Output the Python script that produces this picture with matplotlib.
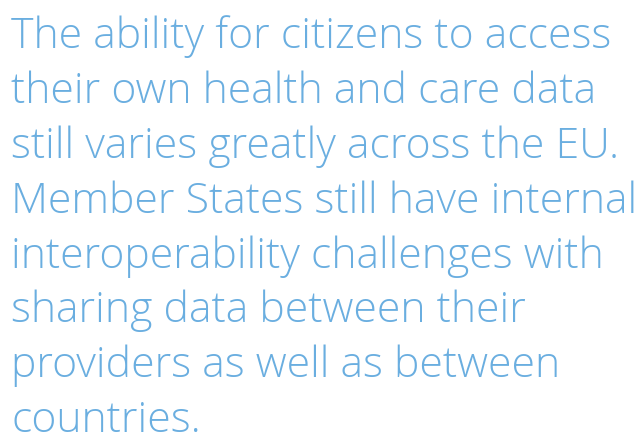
import matplotlib
matplotlib.use("Agg")
import matplotlib.pyplot as plt

lines = [
    "The ability for citizens to access",
    "their own health and care data",
    "still varies greatly across the EU.",
    "Member States still have internal",
    "interoperability challenges with",
    "sharing data between their",
    "providers as well as between",
    "countries.",
]

W, H = 638, 441
fig = plt.figure(figsize=(W / 100, H / 100), dpi=100)
fig.patch.set_facecolor("white")

# baselines measured in pixels from the top
first_base = 48
step = 54.9
for i, txt in enumerate(lines):
    y = 1 - (first_base + i * step) / H
    fig.text(11 / W, y, txt, fontsize=30.8, family="Open Sans",
             fontweight="light", color="#6aaee0", va="baseline", ha="left")

fig.savefig("out.png", dpi=100)
